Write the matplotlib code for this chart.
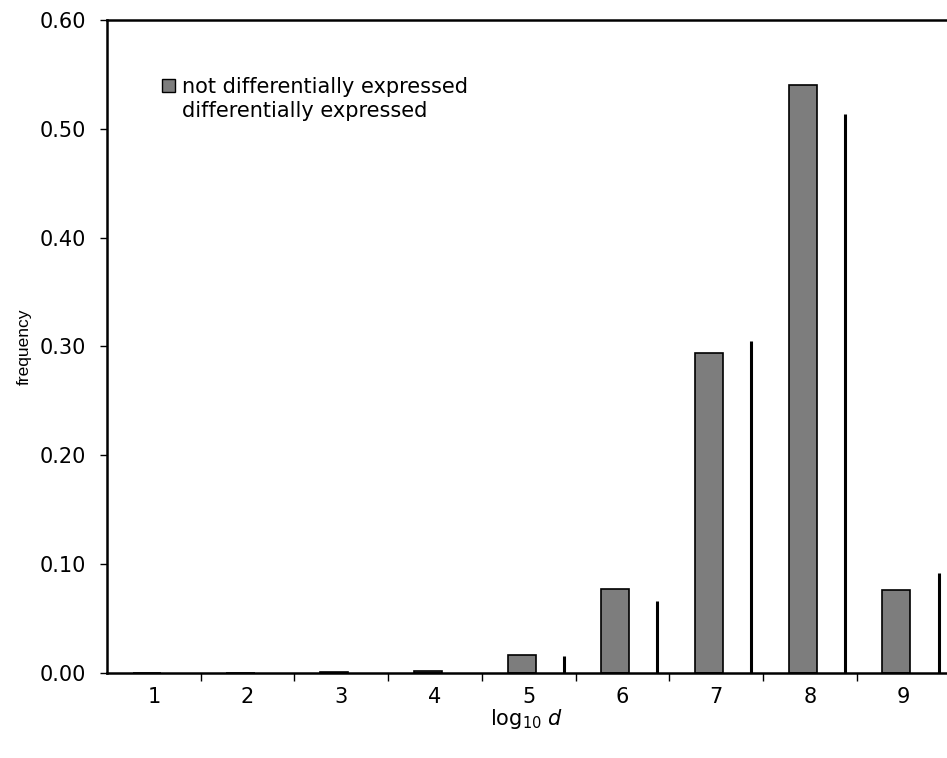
"""
Frequency of log10 d for differentially vs not differentially expressed genes
"""
import matplotlib.pyplot as plt
from matplotlib.patches import Patch

# data
categories = [1, 2, 3, 4, 5, 6, 7, 8, 9]
not_diff = [0.0, 0.0, 0.0005, 0.002, 0.0165, 0.077, 0.294, 0.540, 0.076]
diff = [0.0, 0.0, 0.0, 0.0, 0.016, 0.066, 0.305, 0.514, 0.092]
y_ticks = [0.0, 0.1, 0.2, 0.3, 0.4, 0.5, 0.6]
labels = ["not differentially expressed", "differentially expressed"]

fig = plt.figure(figsize=(9.47, 7.58), dpi=100)
ax = fig.add_axes([107 / 947, 1 - 673 / 758, 840 / 947, 653 / 758])

width = 0.3
gray_left = [c - 0.225 for c in categories]
white_left = [c + 0.075 for c in categories]

ax.bar(white_left, diff, width=width, align="edge", color="white",
       edgecolor="none", zorder=1)
ax.bar(gray_left, not_diff, width=width, align="edge", color="#7d7d7d",
       edgecolor="black", linewidth=1.2, zorder=2)
# only the right edge of the "differentially expressed" bars shows
ax.vlines([x + width for x in white_left], 0, diff, colors="black",
          linewidth=2.2, zorder=3)

ax.set_xlim(0.5, 0.5 + 840 / 93.7)
ax.set_ylim(0, 0.6)
ax.set_yticks(y_ticks)
ax.set_yticklabels([f"{v:.2f}" for v in y_ticks], fontsize=15)
ax.set_xticks(categories)
ax.set_xticklabels([str(c) for c in categories], fontsize=15)
ax.set_xticks([c + 0.5 for c in categories[:-1]], minor=True)
ax.tick_params(axis="x", which="major", length=0, pad=10)
ax.tick_params(axis="x", which="minor", length=6, width=1, direction="out")
ax.tick_params(axis="y", length=5, width=1, direction="out", pad=10)

for side in ["left", "bottom", "top"]:
    ax.spines[side].set_linewidth(1.8)
ax.spines["right"].set_visible(False)

ax.set_ylabel("frequency", fontsize=12.5, family="Liberation Sans", labelpad=6)
ax.set_xlabel(r"log$_{10}$ $d$", fontsize=15, labelpad=0)

handles = [Patch(facecolor="#7d7d7d", edgecolor="black", linewidth=1.0),
           Patch(facecolor="white", edgecolor="none")]
ax.legend(handles, labels, loc="upper left", bbox_to_anchor=(162 / 947, 1 - 77 / 758),
          bbox_transform=fig.transFigure, frameon=False, fontsize=15,
          handlelength=0.6, handleheight=0.6, handletextpad=0.35,
          labelspacing=0.2, borderpad=0, borderaxespad=0)

plt.savefig("out.png", dpi=100)
